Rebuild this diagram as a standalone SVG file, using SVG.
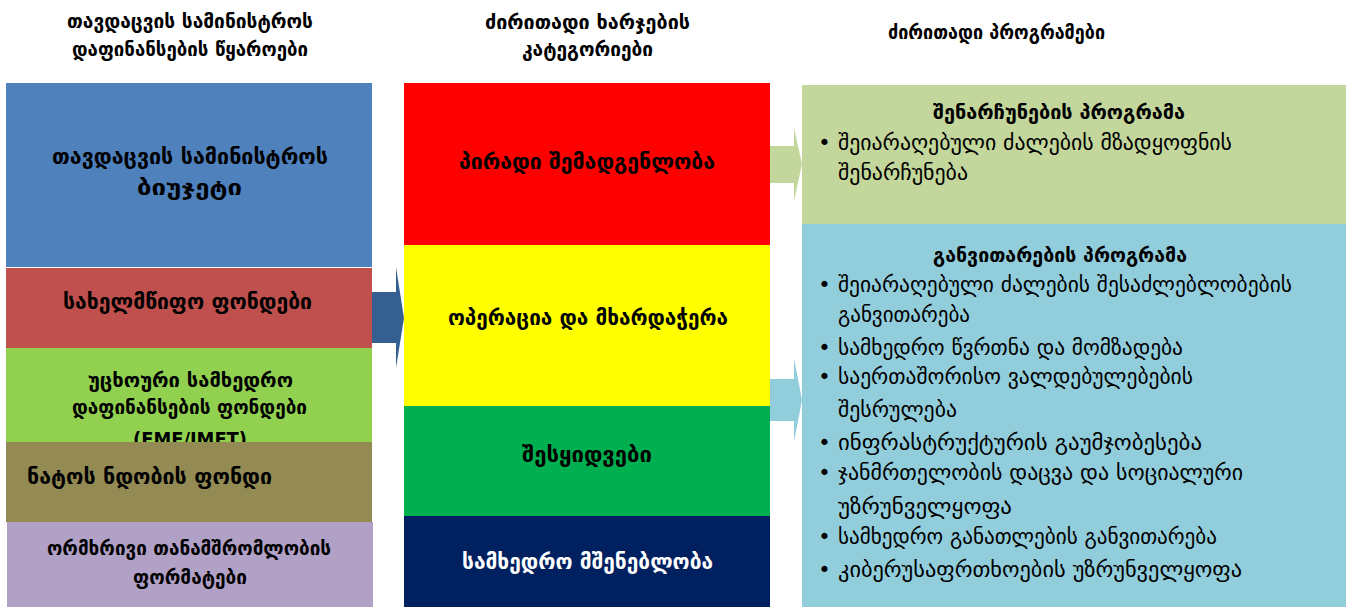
<svg xmlns="http://www.w3.org/2000/svg" width="1352" height="607" viewBox="0 0 1352 607">
<style>
text{font-family:"DejaVu Sans","Noto Sans",sans-serif;fill:#000}
.h{font-size:19px;font-weight:bold;text-anchor:middle}
.b{font-size:21px;font-weight:bold;text-anchor:middle}
.s{font-size:20px}
.t{font-size:20px;font-weight:bold;text-anchor:middle}
.p{font-size:21px}
.d{font-size:21px;text-anchor:middle}
.w{fill:#fff}
</style>
<rect width="1352" height="607" fill="#fff"/>
<g id="headers">
<text class="h" x="190" y="28" textLength="246" lengthAdjust="spacingAndGlyphs">თავდაცვის სამინისტროს</text>
<text class="h" x="190" y="56" textLength="236" lengthAdjust="spacingAndGlyphs">დაფინანსების წყაროები</text>
<text class="h" x="587.5" y="29" textLength="205" lengthAdjust="spacingAndGlyphs">ძირითადი ხარჯების</text>
<text class="h" x="587.5" y="56" textLength="131" lengthAdjust="spacingAndGlyphs">კატეგორიები</text>
<text class="h" x="996.5" y="39" textLength="217" lengthAdjust="spacingAndGlyphs">ძირითადი პროგრამები</text>
</g>
<g id="connectors">
<polygon points="372,292 396,292 396,267 404,318 396,368 396,343 372,343" fill="#365F91"/>
<polygon points="770,146 794,146 794,128 802,164 794,201 794,183 770,183" fill="#C3D69B"/>
<polygon points="770,379 794,379 794,358 802,400 794,442 794,421 770,421" fill="#92CDDC"/>
</g>
<g id="src-budget">
<rect x="6" y="83" width="366" height="184" fill="#4F81BD"/>
<text class="b" x="190" y="164" textLength="276" lengthAdjust="spacingAndGlyphs">თავდაცვის სამინისტროს</text>
<text class="b" x="189.5" y="195" textLength="105" lengthAdjust="spacingAndGlyphs">ბიუჯეტი</text>
</g>
<g id="src-state">
<rect x="6" y="268" width="366" height="80" fill="#C0504D"/>
<text class="b" x="187.5" y="309" textLength="249" lengthAdjust="spacingAndGlyphs">სახელმწიფო ფონდები</text>
</g>
<g id="src-fmf">
<rect x="6" y="348" width="366" height="94" fill="#92D050"/>
<text class="t" x="190.5" y="387" textLength="205" lengthAdjust="spacingAndGlyphs">უცხოური სამხედრო</text>
<text class="t" x="189.5" y="414" textLength="235" lengthAdjust="spacingAndGlyphs">დაფინანსების ფონდები</text>
<text class="t" x="190" y="446" textLength="114" lengthAdjust="spacingAndGlyphs">(FMF/IMET)</text>
</g>
<g id="src-nato">
<rect x="6" y="442" width="366" height="80" fill="#948A54"/>
<text class="b" x="27" y="484" style="text-anchor:start" textLength="245" lengthAdjust="spacingAndGlyphs">ნატოს ნდობის ფონდი</text>
</g>
<g id="src-bilateral">
<rect x="7" y="522" width="366" height="85" fill="#B2A1C7"/>
<text class="t" x="189" y="555" textLength="284" lengthAdjust="spacingAndGlyphs">ორმხრივი თანამშრომლობის</text>
<text class="t" x="190" y="584" textLength="114" lengthAdjust="spacingAndGlyphs">ფორმატები</text>
</g>
<g id="cat-personnel">
<rect x="404" y="83" width="366" height="162" fill="#FF0000"/>
<text class="b" x="587" y="169" textLength="256" lengthAdjust="spacingAndGlyphs">პირადი შემადგენლობა</text>
</g>
<g id="cat-operations">
<rect x="404" y="245" width="366" height="161" fill="#FFFF00"/>
<text class="b" x="588" y="325" textLength="280" lengthAdjust="spacingAndGlyphs">ოპერაცია და მხარდაჭერა</text>
</g>
<g id="cat-procurement">
<rect x="404" y="406" width="366" height="110" fill="#00B050"/>
<text class="b" x="587" y="462" textLength="130" lengthAdjust="spacingAndGlyphs">შესყიდვები</text>
</g>
<g id="cat-construction">
<rect x="404" y="516" width="366" height="91" fill="#002060"/>
<text class="b w" x="587.5" y="569" textLength="251" lengthAdjust="spacingAndGlyphs">სამხედრო მშენებლობა</text>
</g>
<g id="prog-maintenance">
<rect x="802" y="85" width="544" height="139" fill="#C3D69B"/>
<text class="t" x="1059" y="119" textLength="252" lengthAdjust="spacingAndGlyphs">შენარჩუნების პროგრამა</text>
<text class="d" x="824.5" y="150">•</text>
<text class="p" x="838" y="150" textLength="394" lengthAdjust="spacingAndGlyphs">შეიარაღებული ძალების მზადყოფნის</text>
<text class="p" x="838" y="180" textLength="130" lengthAdjust="spacingAndGlyphs">შენარჩუნება</text>
</g>
<g id="prog-development">
<rect x="802" y="224" width="544" height="383" fill="#92CDDC"/>
<text class="t" x="1060" y="262" textLength="254" lengthAdjust="spacingAndGlyphs">განვითარების პროგრამა</text>
<text class="d" x="824.5" y="292">•</text>
<text class="p" x="838" y="292" textLength="454" lengthAdjust="spacingAndGlyphs">შეიარაღებული ძალების შესაძლებლობების</text>
<text class="p" x="838" y="322" textLength="132" lengthAdjust="spacingAndGlyphs">განვითარება</text>
<text class="d" x="824.5" y="355">•</text>
<text class="p" x="838" y="355" textLength="345" lengthAdjust="spacingAndGlyphs">სამხედრო წვრთნა და მომზადება</text>
<text class="d" x="824.5" y="384">•</text>
<text class="p" x="838" y="384" textLength="355" lengthAdjust="spacingAndGlyphs">საერთაშორისო ვალდებულებების</text>
<text class="p" x="838" y="417" textLength="119" lengthAdjust="spacingAndGlyphs">შესრულება</text>
<text class="d" x="824.5" y="450">•</text>
<text class="p" x="838" y="450" textLength="364" lengthAdjust="spacingAndGlyphs">ინფრასტრუქტურის გაუმჯობესება</text>
<text class="d" x="824.5" y="480">•</text>
<text class="p" x="838" y="480" textLength="405" lengthAdjust="spacingAndGlyphs">ჯანმრთელობის დაცვა და სოციალური</text>
<text class="p" x="838" y="514" textLength="174" lengthAdjust="spacingAndGlyphs">უზრუნველყოფა</text>
<text class="d" x="824.5" y="544">•</text>
<text class="p" x="838" y="544" textLength="379" lengthAdjust="spacingAndGlyphs">სამხედრო განათლების განვითარება</text>
<text class="d" x="824.5" y="577">•</text>
<text class="p" x="838" y="577" textLength="404" lengthAdjust="spacingAndGlyphs">კიბერუსაფრთხოების უზრუნველყოფა</text>
</g>
</svg>
